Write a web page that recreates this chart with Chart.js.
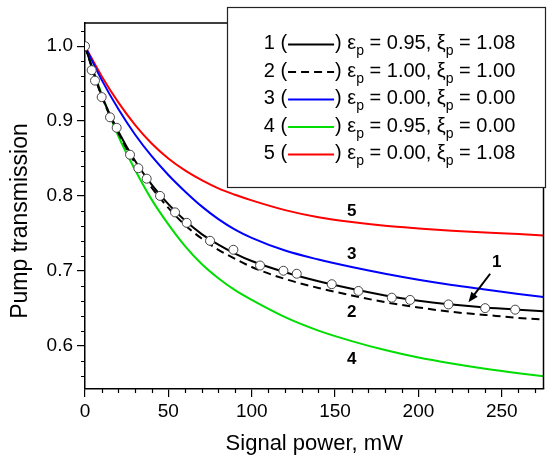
<!DOCTYPE html>
<html>
<head>
<meta charset="utf-8">
<script src="https://cdn.jsdelivr.net/npm/chart.js@4.4.1/dist/chart.umd.min.js"></script>
<style>
    html, body { margin: 0; padding: 0; background: #fff; }
    canvas { display: block; }
</style>
</head>
<body>
<canvas id="main" width="549" height="459"></canvas>
<script>
// signal power grid (mW) shared by the calculated curves
const xGrid = [0, 10, 20, 30, 40, 50, 60, 70, 80, 90, 100, 120, 140, 160, 180, 200, 220, 240, 260, 275]

// calculated pump transmission, curves 1..5
const curve1 = [1.000, 0.934, 0.886, 0.847, 0.815, 0.789, 0.767, 0.749, 0.735, 0.723, 0.713, 0.698, 0.686, 0.676, 0.667, 0.660, 0.655, 0.651, 0.648, 0.646]
const curve2 = [1.000, 0.933, 0.884, 0.844, 0.811, 0.784, 0.761, 0.743, 0.728, 0.716, 0.705, 0.689, 0.677, 0.667, 0.658, 0.651, 0.645, 0.641, 0.637, 0.635]
const curve3 = [1.000, 0.955, 0.916, 0.882, 0.853, 0.828, 0.806, 0.786, 0.769, 0.755, 0.744, 0.727, 0.715, 0.705, 0.696, 0.688, 0.681, 0.675, 0.669, 0.665]
const curve4 = [1.000, 0.936, 0.880, 0.835, 0.795, 0.762, 0.733, 0.709, 0.690, 0.674, 0.661, 0.638, 0.620, 0.606, 0.594, 0.584, 0.576, 0.569, 0.563, 0.559]
const curve5 = [1.000, 0.960, 0.925, 0.895, 0.870, 0.850, 0.834, 0.821, 0.810, 0.8015, 0.794, 0.781, 0.7715, 0.765, 0.760, 0.7565, 0.7535, 0.751, 0.749, 0.747]

// measured points (open circles)
const measuredX = [0, 4, 6, 10, 15, 19, 27, 32, 37, 45, 54, 61, 75, 89, 105, 119, 127, 148, 164, 184, 195, 218, 240, 258]
const measuredY = [1.000, 0.968, 0.954, 0.932, 0.905, 0.891, 0.855, 0.837, 0.823, 0.800, 0.778, 0.764, 0.740, 0.728, 0.707, 0.700, 0.696, 0.682, 0.673, 0.664, 0.661, 0.655, 0.650, 0.648]

// ticks
const xTickValues = [0, 10, 20, 30, 40, 50, 60, 70, 80, 90, 100, 110, 120, 130, 140, 150, 160, 170, 180, 190, 200, 210, 220, 230, 240, 250, 260, 270]
const xMajor = [0, 50, 100, 150, 200, 250]
const yTickValues = [0.56, 0.58, 0.60, 0.62, 0.64, 0.66, 0.68, 0.70, 0.72, 0.74, 0.76, 0.78, 0.80, 0.82, 0.84, 0.86, 0.88, 0.90, 0.92, 0.94, 0.96, 0.98, 1.00, 1.02]
const yMajor = [0.6, 0.7, 0.8, 0.9, 1.0]

// legend text
const legendNums = ['1', '2', '3', '4', '5']
const legendEps = ['0.95', '1.00', '0.00', '0.95', '0.00']
const legendXi = ['1.08', '1.00', '0.00', '0.00', '1.08']

// curve labels placed in data coordinates
const curveLabels = ['5', '3', '2', '4', '1']
const curveLabelX = [160, 160, 160, 160, 247]
const curveLabelY = [0.780, 0.722, 0.644, 0.582, 0.711]
const arrowFrom = [243, 0.696]
const arrowTo = [230, 0.658]

const FONT = "'Liberation Sans', Arial, sans-serif"
Chart.defaults.font.family = FONT
Chart.defaults.color = '#000'

const isMajor = (v, list) => list.some(m => Math.abs(m - v) < 1e-6)
const pairs = ys => xGrid.map((x, i) => ({ x: x, y: ys[i] }))

const curveStyle = (ys, color, dash) => ({
    data: pairs(ys),
    borderColor: color,
    borderWidth: 2,
    borderDash: dash || [],
    pointRadius: 0,
    cubicInterpolationMode: 'monotone',
    fill: false
})

const datasets = [
    {
        data: measuredX.map((x, i) => ({ x: x, y: measuredY[i] })),
        showLine: false,
        pointRadius: 4.5,
        pointBackgroundColor: '#fff',
        pointBorderColor: '#444',
        pointBorderWidth: 1
    },
    curveStyle(curve1, '#000'),
    curveStyle(curve2, '#000', [8, 5]),
    curveStyle(curve3, '#0000ff'),
    curveStyle(curve4, '#00dd00'),
    curveStyle(curve5, '#ff0000')
]

function drawLegend(chart) {
    const ctx = chart.ctx
    const l = 227.5, t = 7.5, r = 545.5, b = 187.5
    ctx.save()
    ctx.fillStyle = '#fff'
    ctx.fillRect(l, t, r - l, b - t)
    ctx.strokeStyle = '#222'
    ctx.lineWidth = 1.2
    ctx.strokeRect(l, t, r - l, b - t)

    const big = '20px ' + FONT
    const small = '14px ' + FONT
    const sampleLen = 48
    ctx.textBaseline = 'middle'
    ctx.textAlign = 'left'
    legendNums.forEach((n, i) => {
        const ds = chart.data.datasets[i + 1]
        const parts = [
            { s: n + ' (', f: big },
            { line: true },
            { s: ') \u03b5', f: big },
            { s: 'p', f: small, sub: true },
            { s: ' = ' + legendEps[i] + ', \u03be', f: big },
            { s: 'p', f: small, sub: true },
            { s: ' = ' + legendXi[i], f: big }
        ]
        let w = 0
        parts.forEach(p => {
            if (p.line) { p.w = sampleLen } else { ctx.font = p.f; p.w = ctx.measureText(p.s).width }
            w += p.w
        })
        let x = (l + r) / 2 - w / 2 + 3
        const y = t + 36 + i * 27.5
        parts.forEach(p => {
            if (p.line) {
                ctx.beginPath()
                ctx.strokeStyle = ds.borderColor
                ctx.lineWidth = 2
                ctx.setLineDash(ds.borderDash)
                ctx.moveTo(x + 1, y + 1)
                ctx.lineTo(x + p.w - 1, y + 1)
                ctx.stroke()
                ctx.setLineDash([])
            } else {
                ctx.font = p.f
                ctx.fillStyle = '#000'
                ctx.fillText(p.s, x, p.sub ? y + 8 : y)
            }
            x += p.w
        })
    })
    ctx.restore()
}

const decor = {
    id: 'decor',
    afterDraw(chart) {
        const ctx = chart.ctx
        const a = chart.chartArea
        const xs = chart.scales.x, ys = chart.scales.y
        ctx.save()

        // top and right frame lines
        ctx.strokeStyle = '#000'
        ctx.lineWidth = 1.5
        ctx.beginPath()
        ctx.moveTo(a.left, a.top)
        ctx.lineTo(a.right, a.top)
        ctx.lineTo(a.right, a.bottom)
        ctx.stroke()

        // minor ticks
        ctx.lineWidth = 1.2
        ctx.beginPath()
        xTickValues.filter(v => !isMajor(v, xMajor)).forEach(v => {
            const px = Math.round(xs.getPixelForValue(v)) + 0.5
            ctx.moveTo(px, a.bottom)
            ctx.lineTo(px, a.bottom + 4)
        })
        yTickValues.filter(v => !isMajor(v, yMajor)).forEach(v => {
            const py = Math.round(ys.getPixelForValue(v)) + 0.5
            ctx.moveTo(a.left, py)
            ctx.lineTo(a.left - 4, py)
        })
        ctx.stroke()

        // y axis title
        ctx.save()
        ctx.translate(21, 221)
        ctx.rotate(-Math.PI / 2)
        ctx.font = '23px ' + FONT
        ctx.textAlign = 'center'
        ctx.textBaseline = 'middle'
        ctx.fillStyle = '#000'
        ctx.fillText('Pump transmission', 0, 0)
        ctx.restore()

        // curve labels
        ctx.font = 'bold 17px ' + FONT
        ctx.textAlign = 'center'
        ctx.textBaseline = 'middle'
        ctx.fillStyle = '#000'
        curveLabels.forEach((s, i) => {
            ctx.fillText(s, xs.getPixelForValue(curveLabelX[i]), ys.getPixelForValue(curveLabelY[i]))
        })

        // arrow to curve 1
        const x0 = xs.getPixelForValue(arrowFrom[0]), y0 = ys.getPixelForValue(arrowFrom[1])
        const x1 = xs.getPixelForValue(arrowTo[0]), y1 = ys.getPixelForValue(arrowTo[1])
        const ang = Math.atan2(y1 - y0, x1 - x0)
        const head = 10
        ctx.lineWidth = 2
        ctx.beginPath()
        ctx.moveTo(x0, y0)
        ctx.lineTo(x1 - Math.cos(ang) * head * 0.8, y1 - Math.sin(ang) * head * 0.8)
        ctx.stroke()
        ctx.beginPath()
        ctx.moveTo(x1, y1)
        ctx.lineTo(x1 - head * Math.cos(ang) + 4 * Math.sin(ang), y1 - head * Math.sin(ang) - 4 * Math.cos(ang))
        ctx.lineTo(x1 - head * Math.cos(ang) - 4 * Math.sin(ang), y1 - head * Math.sin(ang) + 4 * Math.cos(ang))
        ctx.closePath()
        ctx.fill()
        ctx.restore()

        drawLegend(chart)
    }
}

const canvas = document.querySelector('#main')
const ctx = canvas.getContext('2d')

let chart = new Chart(ctx, {
    type: 'line',
    data: { datasets: datasets },
    plugins: [decor],
    options: {
        responsive: false,
        animation: false,
        devicePixelRatio: 1,
        layout: { padding: { top: 23, right: 5, left: 0, bottom: 0 } },
        plugins: {
            legend: { display: false },
            tooltip: { enabled: false }
        },
        scales: {
            x: {
                type: 'linear',
                min: 0,
                max: 275,
                afterBuildTicks: s => { s.ticks = xTickValues.map(v => ({ value: v })) },
                afterFit: s => { s.height = 70 },
                border: { color: '#000', width: 1.5 },
                grid: {
                    drawOnChartArea: false,
                    tickLength: 8,
                    lineWidth: 1.2,
                    color: c => isMajor(c.tick.value, xMajor) ? '#000' : 'rgba(0,0,0,0)'
                },
                ticks: {
                    autoSkip: false,
                    maxRotation: 0,
                    padding: 3,
                    font: { size: 19 },
                    callback: v => isMajor(v, xMajor) ? String(v) : ''
                },
                title: {
                    display: true,
                    text: 'Signal power, mW',
                    font: { size: 22 },
                    padding: { top: 0, bottom: 2 }
                }
            },
            y: {
                type: 'linear',
                min: 0.542,
                max: 1.031,
                afterBuildTicks: s => { s.ticks = yTickValues.map(v => ({ value: v })) },
                afterFit: s => { s.width = 85 },
                border: { color: '#000', width: 1.5 },
                grid: {
                    drawOnChartArea: false,
                    tickLength: 8,
                    lineWidth: 1.2,
                    color: c => isMajor(c.tick.value, yMajor) ? '#000' : 'rgba(0,0,0,0)'
                },
                ticks: {
                    autoSkip: false,
                    padding: 4,
                    font: { size: 19 },
                    callback: v => isMajor(v, yMajor) ? v.toFixed(1) : ''
                }
            }
        }
    }
})
</script>
</body>
</html>
